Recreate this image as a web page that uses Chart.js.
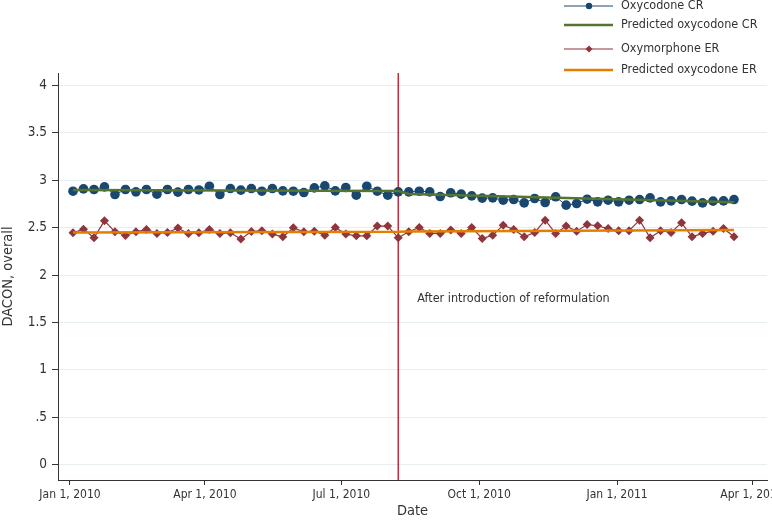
<!DOCTYPE html>
<html>
<head>
<meta charset="utf-8">
<script src="https://cdn.jsdelivr.net/npm/chart.js@4.4.1/dist/chart.umd.min.js"></script>
<style>
  html, body { margin: 0; padding: 0; background: #fff; }
  #wrap { width: 772px; height: 520px; }
</style>
</head>
<body>
<div id="wrap"><canvas id="dacon-chart" width="772" height="520"></canvas></div>
<script>
// weekly observations
const weeks = [
  '2010-01-03', '2010-01-10', '2010-01-17', '2010-01-24', '2010-01-31',
  '2010-02-07', '2010-02-14', '2010-02-21', '2010-02-28',
  '2010-03-07', '2010-03-14', '2010-03-21', '2010-03-28',
  '2010-04-04', '2010-04-11', '2010-04-18', '2010-04-25',
  '2010-05-02', '2010-05-09', '2010-05-16', '2010-05-23', '2010-05-30',
  '2010-06-06', '2010-06-13', '2010-06-20', '2010-06-27',
  '2010-07-04', '2010-07-11', '2010-07-18', '2010-07-25',
  '2010-08-01', '2010-08-08', '2010-08-15', '2010-08-22', '2010-08-29',
  '2010-09-05', '2010-09-12', '2010-09-19', '2010-09-26',
  '2010-10-03', '2010-10-10', '2010-10-17', '2010-10-24', '2010-10-31',
  '2010-11-07', '2010-11-14', '2010-11-21', '2010-11-28',
  '2010-12-05', '2010-12-12', '2010-12-19', '2010-12-26',
  '2011-01-02', '2011-01-09', '2011-01-16', '2011-01-23', '2011-01-30',
  '2011-02-06', '2011-02-13', '2011-02-20', '2011-02-27',
  '2011-03-06', '2011-03-13', '2011-03-20'
];

const oxycodoneCR = [
  2.884, 2.909, 2.902, 2.930, 2.849, 2.902, 2.877, 2.902, 2.853, 2.902,
  2.874, 2.902, 2.897, 2.937, 2.849, 2.912, 2.895, 2.912, 2.884, 2.912,
  2.888, 2.884, 2.870, 2.919, 2.940, 2.888, 2.923, 2.842, 2.937, 2.884,
  2.842, 2.877, 2.877, 2.884, 2.877, 2.828, 2.867, 2.853, 2.835, 2.811,
  2.814, 2.789, 2.796, 2.761, 2.807, 2.765, 2.825, 2.737, 2.754, 2.800,
  2.772, 2.789, 2.772, 2.789, 2.796, 2.814, 2.772, 2.782, 2.796, 2.779,
  2.761, 2.779, 2.782, 2.796
];

const oxymorphoneER = [
  2.446, 2.484, 2.393, 2.572, 2.456, 2.418, 2.456, 2.481, 2.439, 2.449,
  2.495, 2.439, 2.446, 2.481, 2.439, 2.445, 2.379, 2.460, 2.467, 2.432,
  2.404, 2.498, 2.456, 2.463, 2.421, 2.502, 2.432, 2.414, 2.414, 2.516,
  2.516, 2.393, 2.456, 2.502, 2.439, 2.439, 2.474, 2.439, 2.502, 2.386,
  2.421, 2.526, 2.481, 2.404, 2.449, 2.579, 2.439, 2.516, 2.463, 2.533,
  2.519, 2.491, 2.467, 2.467, 2.579, 2.393, 2.467, 2.449, 2.551, 2.404,
  2.439, 2.463, 2.491, 2.404
];

// fitted segments: start/end of pre and post period
const predDates = ['2010-01-03', '2010-08-08', '2010-08-15', '2011-03-20'];
const predCR = [2.897, 2.886, 2.855, 2.768];
const predER = [2.449, 2.456, 2.460, 2.474];

const reformulationDate = '2010-08-08';
const reformulationNote = 'After introduction of reformulation';

const xTickDates = ['2010-01-01', '2010-04-01', '2010-07-01', '2010-10-01', '2011-01-01', '2011-04-01'];
const xTickLabels = ['Jan 1, 2010', 'Apr 1, 2010', 'Jul 1, 2010', 'Oct 1, 2010', 'Jan 1, 2011', 'Apr 1, 2011'];
const yTicks = [0, 0.5, 1, 1.5, 2, 2.5, 3, 3.5, 4];
const yTickLabels = ['0', '.5', '1', '1.5', '2', '2.5', '3', '3.5', '4'];

const FONT = "'Liberation Sans Narrow', 'DejaVu Sans Condensed', 'Arial Narrow', sans-serif";
const INK = '#333';

const dayOf = (s) => (Date.parse(s + 'T00:00:00Z') - Date.UTC(2010, 0, 1)) / 86400000;
const toPoints = (dates, vals) => dates.map((d, i) => ({ x: dayOf(d), y: vals[i] }));
const xTickDays = xTickDates.map(dayOf);

const reformLine = {
    id: 'reformLine',
    beforeDatasetsDraw(chart) {
        const { ctx, chartArea, scales } = chart;
        const x = scales.x.getPixelForValue(dayOf(reformulationDate));
        ctx.save();
        ctx.strokeStyle = '#bf2b3f';
        ctx.lineWidth = 1.5;
        ctx.beginPath();
        ctx.moveTo(x, chartArea.top);
        ctx.lineTo(x, chartArea.bottom);
        ctx.stroke();
        ctx.restore();
    },
    afterDraw(chart) {
        const { ctx, scales } = chart;
        const x = scales.x.getPixelForValue(dayOf(reformulationDate));
        ctx.save();
        ctx.fillStyle = INK;
        ctx.font = '12.5px ' + FONT;
        ctx.textBaseline = 'middle';
        ctx.fillText(reformulationNote, x + 19, scales.y.getPixelForValue(1.75));
        ctx.restore();
    }
};

// Stata-style legend in the top right corner
const stataLegend = {
    id: 'stataLegend',
    afterDraw(chart) {
        const { ctx } = chart;
        const rows = [6, 25, 49, 70];
        ctx.save();
        chart.data.datasets.forEach((ds, i) => {
            const y = rows[i];
            ctx.strokeStyle = ds.borderColor;
            ctx.lineWidth = ds.borderWidth;
            ctx.beginPath();
            ctx.moveTo(564, y);
            ctx.lineTo(613, y);
            ctx.stroke();
            if (ds.pointRadius > 0) {
                ctx.fillStyle = ds.borderColor;
                ctx.beginPath();
                if (ds.pointStyle === 'rectRot') {
                    ctx.moveTo(589, y - 3.5);
                    ctx.lineTo(592.5, y);
                    ctx.lineTo(589, y + 3.5);
                    ctx.lineTo(585.5, y);
                    ctx.closePath();
                } else {
                    ctx.arc(589, y, 3.2, 0, Math.PI * 2);
                }
                ctx.fill();
            }
            ctx.fillStyle = INK;
            ctx.font = '12.5px ' + FONT;
            ctx.textBaseline = 'middle';
            ctx.fillText(ds.label, 621, y);
        });
        ctx.restore();
    }
};

const ctx = document.getElementById('dacon-chart').getContext('2d');
new Chart(ctx, {
    type: 'line',
    data: {
        datasets: [{
            label: 'Oxycodone CR',
            data: toPoints(weeks, oxycodoneCR),
            borderColor: '#1a476f',
            backgroundColor: '#1a476f',
            borderWidth: 1,
            pointStyle: 'circle',
            pointRadius: 4.8,
            pointBorderWidth: 0,
            order: 4,
        }, {
            label: 'Predicted oxycodone CR',
            data: toPoints(predDates, predCR),
            borderColor: '#55752f',
            borderWidth: 2.5,
            pointRadius: 0,
            order: 3,
        }, {
            label: 'Oxymorphone ER',
            data: toPoints(weeks, oxymorphoneER),
            borderColor: '#90353b',
            backgroundColor: '#90353b',
            borderWidth: 1.2,
            pointStyle: 'rectRot',
            pointRadius: 4.5,
            pointBorderWidth: 0,
            order: 2,
        }, {
            label: 'Predicted oxycodone ER',
            data: toPoints(predDates, predER),
            borderColor: '#e37e00',
            borderWidth: 2.5,
            pointRadius: 0,
            order: 1,
        }]
    },
    options: {
        responsive: false,
        animation: false,
        layout: { padding: { top: 73, right: 5, left: 0, bottom: 0 } },
        scales: {
            x: {
                type: 'linear',
                min: -8,
                max: 465,
                afterBuildTicks: (scale) => { scale.ticks = xTickDays.map(v => ({ value: v })); },
                afterFit: (scale) => { scale.height = 40; scale.paddingLeft = 0; scale.paddingRight = 0; },
                ticks: {
                    autoSkip: false,
                    maxRotation: 0,
                    minRotation: 0,
                    padding: 3,
                    color: INK,
                    font: { family: FONT, size: 12 },
                    callback: (value) => xTickLabels[xTickDays.indexOf(value)],
                },
                grid: { drawOnChartArea: false, tickLength: 5, tickColor: INK },
                border: { color: INK, width: 1 },
                title: {
                    display: true,
                    text: 'Date',
                    color: INK,
                    font: { family: FONT, size: 14.5 },
                    padding: { top: 0, bottom: 0 },
                },
            },
            y: {
                min: -0.16,
                max: 4.13,
                afterBuildTicks: (scale) => { scale.ticks = yTicks.map(v => ({ value: v })); },
                afterFit: (scale) => { scale.width = 58; scale.paddingTop = 0; scale.paddingBottom = 0; },
                ticks: {
                    padding: 5,
                    color: INK,
                    font: { family: FONT, size: 13.5 },
                    callback: (value) => yTickLabels[yTicks.indexOf(value)],
                },
                grid: { color: '#e6eef1', tickLength: 6, tickColor: INK },
                border: { color: INK, width: 1 },
                title: {
                    display: true,
                    text: 'DACON, overall',
                    color: INK,
                    font: { family: FONT, size: 14.5 },
                    padding: { top: 0, bottom: 0 },
                },
            },
        },
        plugins: {
            legend: { display: false },
            tooltip: { enabled: false },
        },
    },
    plugins: [reformLine, stataLegend],
});
</script>
</body>
</html>
